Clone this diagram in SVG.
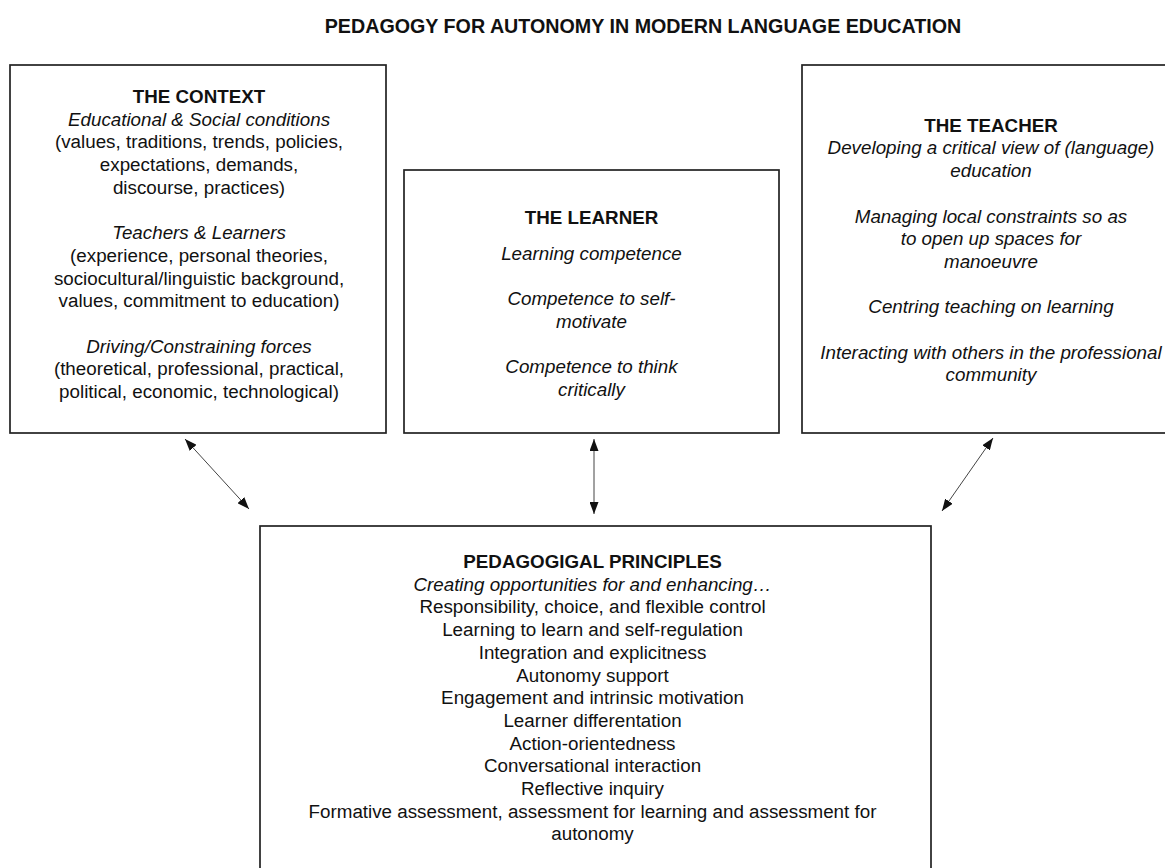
<svg xmlns="http://www.w3.org/2000/svg" width="1165" height="868" viewBox="0 0 1165 868">
<style>
  text { font-family: "Liberation Sans", Arial, sans-serif; fill: #111; text-anchor: middle; }
  .title { font-size: 19.7px; font-weight: bold; }
  .head { font-size: 18.8px; font-weight: bold; }
  .t { font-size: 18.8px; }
  .i { font-size: 18.8px; font-style: italic; }
  .b { font-size: 18.8px; }
  .bh { font-size: 18.8px; font-weight: bold; }
  .bi { font-size: 18.8px; font-style: italic; }
  .box { fill: #fff; stroke: #222; stroke-width: 1.7; }
  .conn { stroke: #444; stroke-width: 1; fill: none; marker-start: url(#ah); marker-end: url(#ah); }
</style>
<defs>
  <marker id="ah" viewBox="0 0 12 9" refX="12" refY="4.5" markerWidth="12" markerHeight="9" markerUnits="userSpaceOnUse" orient="auto-start-reverse">
    <path d="M0,0 L12,4.5 L0,9 z" fill="#111"/>
  </marker>
</defs>
<rect width="1165" height="868" fill="#fff"/>
<text class="title" x="643" y="33">PEDAGOGY FOR AUTONOMY IN MODERN LANGUAGE EDUCATION</text>

<g id="context">
  <rect class="box" x="10" y="65" width="376" height="368"/>
  <text class="head" x="199" y="103">THE CONTEXT</text>
  <text class="i" x="199" y="125.7">Educational &amp; Social conditions</text>
  <text class="t" x="199" y="148.4">(values, traditions, trends, policies,</text>
  <text class="t" x="199" y="171.1">expectations, demands,</text>
  <text class="t" x="199" y="193.8">discourse, practices)</text>
  <text class="i" x="199" y="239.2">Teachers &amp; Learners</text>
  <text class="t" x="199" y="261.9">(experience, personal theories,</text>
  <text class="t" x="199" y="284.6">sociocultural/linguistic background,</text>
  <text class="t" x="199" y="307.3">values, commitment to education)</text>
  <text class="i" x="199" y="352.7">Driving/Constraining forces</text>
  <text class="t" x="199" y="375.4">(theoretical, professional, practical,</text>
  <text class="t" x="199" y="398.1">political, economic, technological)</text>
</g>

<g id="learner">
  <rect class="box" x="404" y="170" width="375" height="263"/>
  <text class="head" x="591.5" y="223.5">THE LEARNER</text>
  <text class="i" x="591.5" y="259.5">Learning competence</text>
  <text class="i" x="591.5" y="305">Competence to self-</text>
  <text class="i" x="591.5" y="327.5">motivate</text>
  <text class="i" x="591.5" y="373">Competence to think</text>
  <text class="i" x="591.5" y="395.5">critically</text>
</g>

<g id="teacher">
  <rect class="box" x="802" y="65" width="380" height="368"/>
  <text class="head" x="991" y="131.7">THE TEACHER</text>
  <text class="i" x="991" y="154.4">Developing a critical view of (language)</text>
  <text class="i" x="991" y="177.1">education</text>
  <text class="i" x="991" y="222.5">Managing local constraints so as</text>
  <text class="i" x="991" y="245.2">to open up spaces for</text>
  <text class="i" x="991" y="267.9">manoeuvre</text>
  <text class="i" x="991" y="313.3">Centring teaching on learning</text>
  <text class="i" x="991" y="358.7">Interacting with others in the professional</text>
  <text class="i" x="991" y="381.4">community</text>
</g>

<g id="principles">
  <rect class="box" x="260" y="526" width="671" height="360"/>
  <text class="bh" x="592.5" y="568">PEDAGOGIGAL PRINCIPLES</text>
  <text class="bi" x="592.5" y="590.7">Creating opportunities for and enhancing…</text>
  <text class="b" x="592.5" y="613.4">Responsibility, choice, and flexible control</text>
  <text class="b" x="592.5" y="636.1">Learning to learn and self-regulation</text>
  <text class="b" x="592.5" y="658.8">Integration and explicitness</text>
  <text class="b" x="592.5" y="681.5">Autonomy support</text>
  <text class="b" x="592.5" y="704.2">Engagement and intrinsic motivation</text>
  <text class="b" x="592.5" y="726.9">Learner differentation</text>
  <text class="b" x="592.5" y="749.6">Action-orientedness</text>
  <text class="b" x="592.5" y="772.3">Conversational interaction</text>
  <text class="b" x="592.5" y="795">Reflective inquiry</text>
  <text class="b" x="592.5" y="817.7">Formative assessment, assessment for learning and assessment for</text>
  <text class="b" x="592.5" y="840.4">autonomy</text>
</g>

<g id="connectors">
  <line class="conn" x1="185" y1="439" x2="249" y2="509"/>
  <line class="conn" x1="594" y1="439" x2="594" y2="514"/>
  <line class="conn" x1="993" y1="438" x2="942" y2="511"/>
</g>
</svg>
